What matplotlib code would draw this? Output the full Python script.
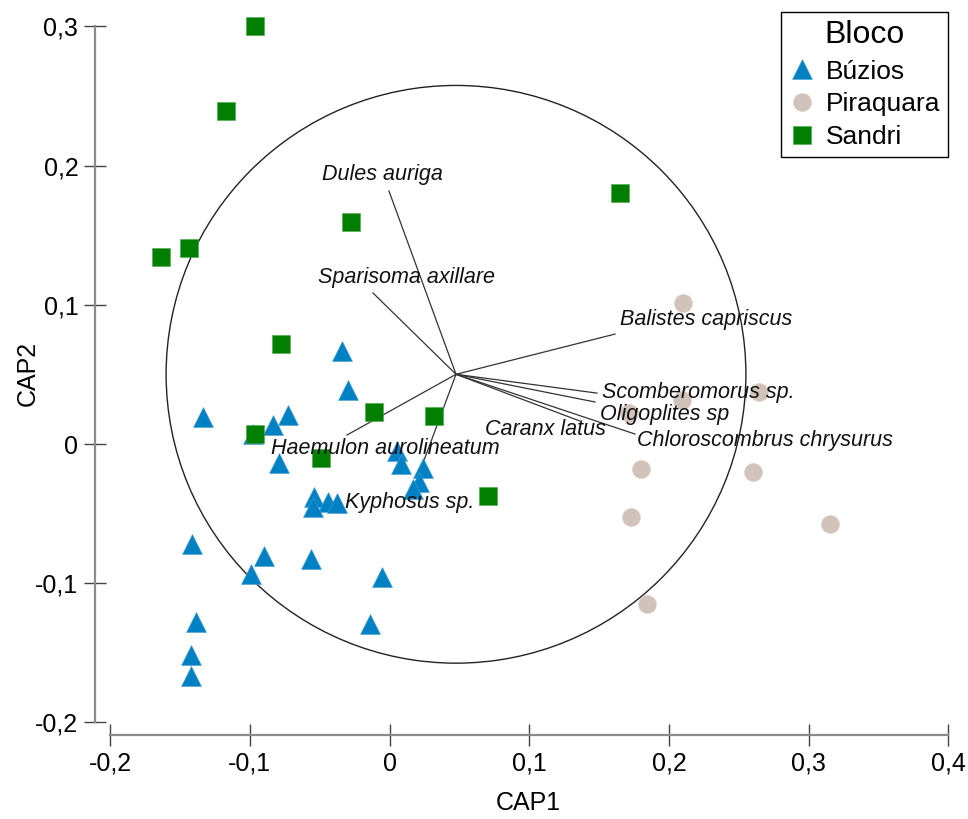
import numpy as np
import matplotlib
matplotlib.use('Agg')
import matplotlib.pyplot as plt
from matplotlib.patches import Circle
from matplotlib.ticker import FuncFormatter

plt.rcParams['font.family'] = ['Liberation Sans', 'DejaVu Sans']

# Site scores (CAP1, CAP2) per block
buzios_x = [-0.0338, -0.0297, -0.1337, -0.0724, -0.0832, -0.0977, -0.0789, 0.0054,
            0.0082, 0.0242, 0.0211, 0.0168, -0.0540, -0.0438, -0.0376, -0.0545,
            -0.1414, -0.0898, -0.0562, -0.0994, -0.0052, -0.1385, -0.0142, -0.1421, -0.1421]
buzios_y = [0.0670, 0.0388, 0.0192, 0.0210, 0.0136, 0.0072, -0.0134, -0.0050,
            -0.0144, -0.0170, -0.0273, -0.0323, -0.0379, -0.0415, -0.0422, -0.0450,
            -0.0721, -0.0805, -0.0828, -0.0934, -0.0953, -0.1277, -0.1295, -0.1516, -0.1667]

piraquara_x = [0.2103, 0.2647, 0.2092, 0.1714, 0.1798, 0.2600, 0.1731, 0.3153, 0.1841]
piraquara_y = [0.1015, 0.0371, 0.0316, 0.0221, -0.0182, -0.0199, -0.0522, -0.0577, -0.1147]

sandri_x = [-0.0963, -0.1172, -0.1638, -0.1435, -0.0276, 0.1650, -0.0779, -0.0109,
            0.0321, -0.0963, -0.0488, 0.0703]
sandri_y = [0.3003, 0.2392, 0.1346, 0.1406, 0.1597, 0.1803, 0.0718, 0.0228,
            0.0201, 0.0072, -0.0103, -0.0371]

# Species vectors (origin and tips)
origin = (0.0476, 0.0501)
circle_radius = 0.2075
species = ['Dules auriga', 'Sparisoma axillare', 'Balistes capriscus', 'Scomberomorus sp.',
           'Oligoplites sp', 'Caranx latus', 'Chloroscombrus chrysurus',
           'Haemulon aurolineatum', 'Kyphosus sp.']
vec_x = [-0.0004, -0.0118, 0.1614, 0.1485, 0.1471, 0.1364, 0.1757, -0.0304, 0.0168]
vec_y = [0.1818, 0.1085, 0.0790, 0.0366, 0.0302, 0.0165, 0.0072, 0.0065, -0.0330]

# label placement relative to tip, in pixels
label_off = [(-7, 16), (33, 16), (5, 15), (5, 1), (5, -12), (-95, -8), (2, -6), (-76, -13), (-68, -13)]
label_ha = ['center', 'center', 'left', 'left', 'left', 'left', 'left', 'left', 'left']

fig = plt.figure(figsize=(9.68, 8.19), dpi=100)
ax = fig.add_axes([95 / 968, 84 / 819, 867.3 / 968, 722.5 / 819])
ax.set_xlim(-0.2108, 0.41)
ax.set_ylim(-0.209, 0.31)

# circle and vectors
ax.add_patch(Circle(origin, circle_radius, fill=False, ec='#222222', lw=1.0, zorder=1))
for i in range(len(species)):
    ax.plot([origin[0], vec_x[i]], [origin[1], vec_y[i]], color='#333333', lw=0.9, zorder=1)

ax.plot(buzios_x, buzios_y, '^', ms=14.5, color='#0081c4', mec='#4aa3d4', mew=0.4,
        ls='none', label='Búzios', zorder=2)
ax.plot(piraquara_x, piraquara_y, 'o', ms=13, color='#d1c3b9', mec='#ddd2ca', mew=0.4,
        ls='none', label='Piraquara', zorder=2)
ax.plot(sandri_x, sandri_y, 's', ms=13, color='#007f00', mec='#4ea64e', mew=0.4,
        ls='none', label='Sandri', zorder=3)

for i, name in enumerate(species):
    ax.annotate(name, xy=(vec_x[i], vec_y[i]), xytext=label_off[i], textcoords='offset pixels',
                ha=label_ha[i], va='center', fontsize=15.5, style='italic', color='#111111',
                zorder=4)

# axes styling
for s in ['top', 'right']:
    ax.spines[s].set_visible(False)
ax.spines['left'].set_bounds(-0.2, 0.3)
ax.spines['bottom'].set_bounds(-0.2, 0.4)
for s in ['left', 'bottom']:
    ax.spines[s].set_color('#8c8c8c')
    ax.spines[s].set_linewidth(1.6)

ax.set_xticks(np.arange(-0.2, 0.41, 0.1))
ax.set_yticks(np.arange(-0.2, 0.31, 0.1))

def comma_fmt(v, pos):
    if abs(v) < 1e-9:
        return '0'
    return ('%.1f' % v).replace('.', ',')

ax.xaxis.set_major_formatter(FuncFormatter(comma_fmt))
ax.yaxis.set_major_formatter(FuncFormatter(comma_fmt))
ax.tick_params(direction='inout', length=16, width=1.0, color='#444444',
               labelsize=18, pad=4)

ax.set_xlabel('CAP1', fontsize=18, labelpad=11)
ax.set_ylabel('CAP2', fontsize=18, labelpad=-3)

leg = ax.legend(title='Bloco', loc='upper right', bbox_to_anchor=(948 / 968, 1 - 12 / 819),
                bbox_transform=fig.transFigure, borderaxespad=0, fontsize=19,
                title_fontsize=23, frameon=True, fancybox=False, framealpha=1,
                edgecolor='black', handlelength=1.0, handletextpad=0.4,
                labelspacing=0.33, borderpad=0.3)
leg.get_frame().set_linewidth(1.0)
leg._legend_box.sep = 7

fig.savefig('out.png', dpi=100)
